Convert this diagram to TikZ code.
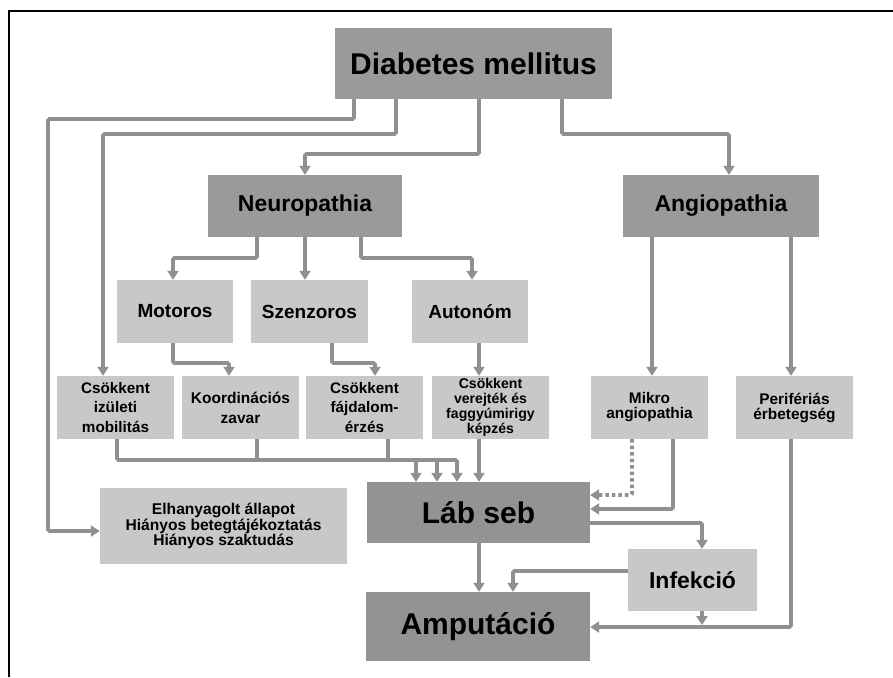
\documentclass[tikz,border=0pt]{standalone}
\usepackage{fontspec}
\setmainfont{Liberation Sans}
\usetikzlibrary{arrows.meta}
\definecolor{darkfill}{HTML}{9A9A9A}
\definecolor{darkerfill}{HTML}{939393}
\definecolor{lightfill}{HTML}{C8C8C8}
\definecolor{linegray}{HTML}{909090}
\tikzset{
  box/.style={rectangle, inner sep=0pt, align=center, text=black, font=\bfseries},
  darkbox/.style={box, fill=darkfill},
  darkerbox/.style={box, fill=darkerfill},
  lightbox/.style={box, fill=lightfill},
  conn/.style={draw=linegray, line width=3.8pt, rounded corners=1.5pt,
    -{Triangle[width=11pt,length=9pt]}},
  plainconn/.style={draw=linegray, line width=3.8pt, rounded corners=1.5pt},
  dotconn/.style={conn, dash pattern=on 3.5pt off 3pt},
}
\begin{document}
\begin{tikzpicture}[x=1pt,y=-1pt]
\useasboundingbox (0,0) rectangle (893,677);
\fill[white] (0,0) rectangle (893,677);
% frame
\draw[black, line width=1.2pt] (9,677) -- (9,11) -- (893,11);

% nodes
\node[darkbox, minimum width=277pt, minimum height=71pt, font=\bfseries\fontsize{30}{34}\selectfont] (dm) at (473.5,63.5) {Diabetes mellitus};
\node[darkbox, minimum width=194pt, minimum height=62pt, font=\bfseries\fontsize{23}{27}\selectfont] (neuro) at (305,206) {Neuropathia};
\node[darkbox, minimum width=196pt, minimum height=62pt, font=\bfseries\fontsize{23}{27}\selectfont] (angio) at (721,206) {Angiopathia};

\node[lightbox, minimum width=116pt, minimum height=63pt, font=\bfseries\fontsize{19}{22}\selectfont] (motoros) at (175,311.5) {Motoros};
\node[lightbox, minimum width=117pt, minimum height=63pt, font=\bfseries\fontsize{19}{22}\selectfont] (szenz) at (309.5,311.5) {Szenzoros};
\node[lightbox, minimum width=116pt, minimum height=63pt, font=\bfseries\fontsize{19}{22}\selectfont] (auto) at (470,311.5) {Autonóm};

\node[lightbox, minimum width=117pt, minimum height=63pt, font=\bfseries\fontsize{15.3}{19.5}\selectfont] (izul) at (115.5,407.5) {Csökkent\\izületi\\mobilitás};
\node[lightbox, minimum width=117pt, minimum height=63pt, font=\bfseries\fontsize{15.5}{20}\selectfont] (koord) at (240.5,407.5) {Koordinációs\\zavar};
\node[lightbox, minimum width=117pt, minimum height=63pt, font=\bfseries\fontsize{15.3}{19.5}\selectfont] (fajd) at (364.5,407.5) {Csökkent\\fájdalom-\\érzés};
\node[lightbox, minimum width=117pt, minimum height=63pt, font=\bfseries\fontsize{14.1}{15}\selectfont] (verej) at (490.5,407.5) {Csökkent\\verejték és\\faggyúmirigy\\képzés};
\node[lightbox, minimum width=117pt, minimum height=63pt, font=\bfseries\fontsize{15.4}{15}\selectfont] (mikro) at (649.5,407.5) {Mikro\\angiopathia};
\node[lightbox, minimum width=117pt, minimum height=63pt, font=\bfseries\fontsize{15.4}{15}\selectfont] (perif) at (794.5,407.5) {Perifériás\\érbetegség};

\node[lightbox, minimum width=247pt, minimum height=76pt, font=\bfseries\fontsize{15.6}{14.5}\selectfont] (elh) at (223.5,526) {Elhanyagolt állapot\\Hiányos betegtájékoztatás\\Hiányos szaktudás};
\node[darkerbox, minimum width=223pt, minimum height=61pt, font=\bfseries\fontsize{30}{34}\selectfont] (lab) at (478.5,512.5) {Láb seb};
\node[lightbox, minimum width=129pt, minimum height=62pt, font=\bfseries\fontsize{23}{27}\selectfont] (infek) at (692.5,580) {Infekció};
\node[darkerbox, minimum width=224pt, minimum height=69pt, font=\bfseries\fontsize{30}{34}\selectfont] (amp) at (478,626.5) {Amputáció};

% connectors from Diabetes mellitus
\draw[conn] (354,0 |- dm.south) -- (354,119) -- (48,119) -- (48,531) -- (elh.west |- 0,531);
\draw[conn] (396,0 |- dm.south) -- (396,134) -- (103,134) -- (103,0 |- izul.north);
\draw[conn] (479,0 |- dm.south) -- (479,154) -- (305,154) -- (neuro.north);
\draw[conn] (562,0 |- dm.south) -- (562,134) -- (729,134) -- (729,0 |- angio.north);

% from Neuropathia
\draw[conn] (257,0 |- neuro.south) -- (257,258) -- (173,258) -- (173,0 |- motoros.north);
\draw[conn] (neuro.south) -- (neuro.south |- szenz.north);
\draw[conn] (361,0 |- neuro.south) -- (361,258) -- (472,258) -- (472,0 |- auto.north);

% second level
\draw[conn] (173,0 |- motoros.south) -- (173,363) -- (229,363) -- (229,0 |- koord.north);
\draw[conn] (332,0 |- szenz.south) -- (332,363) -- (375,363) -- (375,0 |- fajd.north);
\draw[conn] (479,0 |- auto.south) -- (479,0 |- verej.north);

% from Angiopathia
\draw[conn] (652,0 |- angio.south) -- (652,0 |- mikro.north);
\draw[conn] (791,0 |- angio.south) -- (791,0 |- perif.north);

% bus to Láb seb
\draw[plainconn] (117,0 |- izul.south) -- (117,460) -- (437,460);
\draw[conn] (437,460) -- (457,460) -- (457,0 |- lab.north);
\draw[plainconn] (257,0 |- koord.south) -- (257,460);
\draw[plainconn] (388,0 |- fajd.south) -- (388,460);
\draw[conn] (416,460) -- (416,0 |- lab.north);
\draw[conn] (437,460) -- (437,0 |- lab.north);
\draw[conn] (479,0 |- verej.south) -- (479,0 |- lab.north);

% Mikro angiopathia to Láb seb
\draw[dotconn] (632,0 |- mikro.south) -- (632,495) -- (lab.east |- 0,495);
\draw[conn] (673,0 |- mikro.south) -- (673,509) -- (lab.east |- 0,509);

% Láb seb to Infekció and Amputáció
\draw[conn] (lab.east |- 0,523) -- (702,523) -- (702,0 |- infek.north);
\draw[conn] (479,0 |- lab.south) -- (479,0 |- amp.north);
\draw[conn] (infek.west |- 0,571) -- (513,571) -- (513,0 |- amp.north);

% Perifériás and Infekció to Amputáció
\draw[conn] (791,0 |- perif.south) -- (791,627) -- (amp.east |- 0,627);
\draw[conn] (702,0 |- infek.south) -- (702,625);
\end{tikzpicture}
\end{document}
